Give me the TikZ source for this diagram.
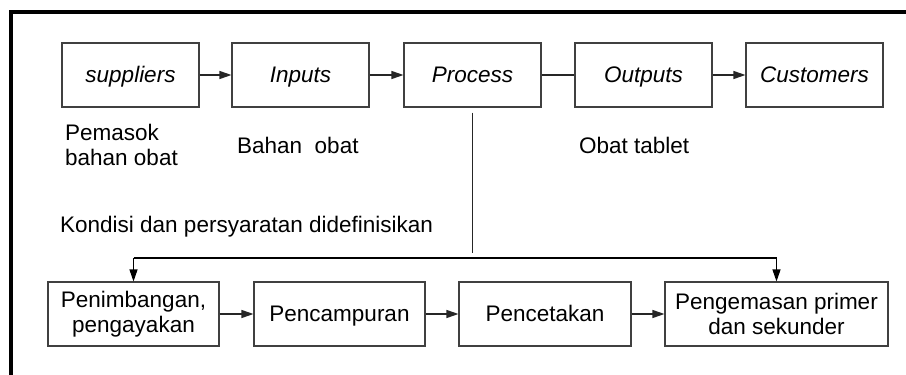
\documentclass[tikz,border=0pt]{standalone}
\usepackage{fontspec}
\setmainfont{Liberation Sans}
\usetikzlibrary{arrows.meta}
\begin{document}
\begin{tikzpicture}[x=1pt,y=-1pt,
  fnt/.style={font=\fontsize{22.5}{24.5}\selectfont},
  box/.style={draw=black!75,line width=1.1pt,minimum height=64pt,inner sep=0pt,align=center,fnt},
  onel/.style={text height=18pt,text depth=4pt},
  topbox/.style={box,onel,minimum width=137pt,font=\fontsize{22.5}{24.5}\selectfont\itshape},
  lbl/.style={fnt,align=left,inner sep=0pt},
  arr/.style={-{Triangle[length=12pt,width=8pt]},line width=1.1pt,draw=black!85}
]
\useasboundingbox (0,0) rectangle (906,375);
\draw[line width=4pt] (10.5,380) -- (10.5,11.5) -- (910,11.5);

\node[topbox] (sup) at (130.5,75) {suppliers};
\node[topbox] (inp) at (300.5,75) {Inputs};
\node[topbox] (pro) at (472.5,75) {Process};
\node[topbox] (out) at (643.5,75) {Outputs};
\node[topbox] (cus) at (814.5,75) {Customers};

\draw[arr] (sup) -- (inp);
\draw[arr] (inp) -- (pro);
\draw[line width=1.1pt,draw=black!85] (pro) -- (out);
\draw[arr] (out) -- (cus);

\node[lbl,anchor=base west] (l1) at (65,165) {Pemasok\\bahan obat};
\node[lbl,anchor=base west] (l2) at (237,153) {Bahan\ \ obat};
\node[lbl,anchor=base west] (l3) at (579,153) {Obat tablet};
\node[lbl,anchor=base west] (l4) at (60,232) {Kondisi dan persyaratan didefinisikan};

\node[box,minimum width=171pt] (b1) at (133.5,314) {Penimbangan,\\pengayakan};
\node[box,onel,minimum width=171pt] (b2) at (339.5,314) {Pencampuran};
\node[box,onel,minimum width=172pt] (b3) at (545,314) {Pencetakan};
\node[box,minimum width=223pt] (b4) at (776.5,314) {Pengemasan primer\\dan sekunder};

\coordinate (vtop) at ([yshift=-5pt]pro.south);
\coordinate (vbot) at (472.5,253);
\coordinate (h1) at (b1.north |- 0,258);
\coordinate (h2) at (b4.north |- 0,258);

\draw[line width=1.1pt,draw=black!85] (vtop) -- (vbot);
\draw[line width=1.1pt] (h1) -- (h2);
\draw[arr,draw=black] (h1) -- (b1.north);
\draw[arr,draw=black] (h2) -- (b4.north);
\draw[arr] (b1) -- (b2);
\draw[arr] (b2) -- (b3);
\draw[arr] (b3) -- (b4);
\end{tikzpicture}
\end{document}
